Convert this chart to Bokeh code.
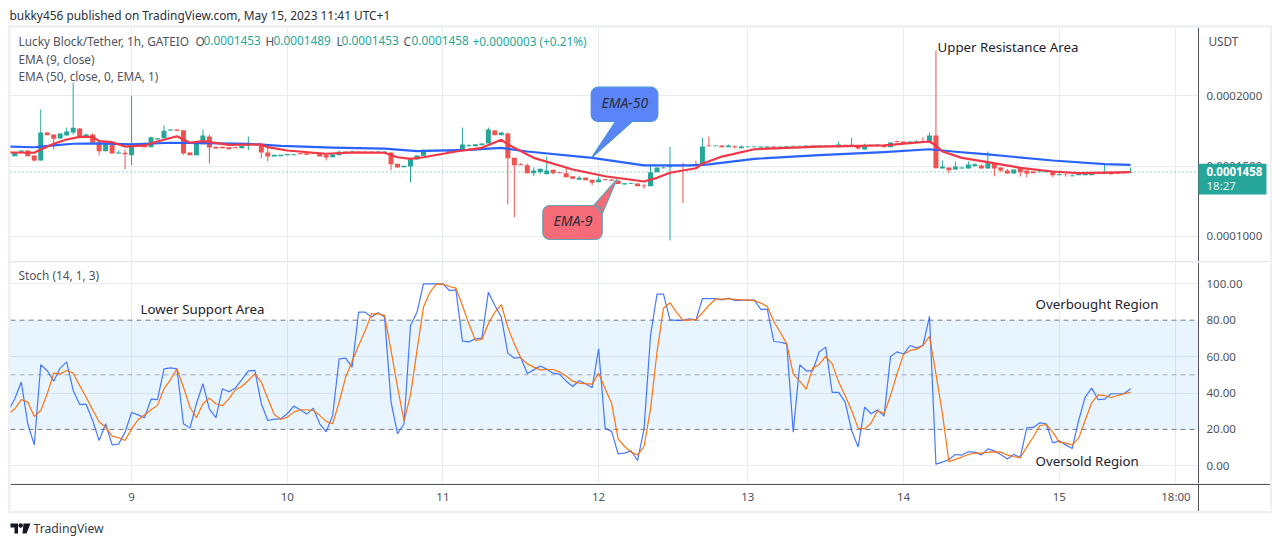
import math
import numpy as np
from bokeh.embed import file_html
from bokeh.resources import INLINE
from bokeh.layouts import column
from bokeh.models import (BoxAnnotation, ColumnDataSource, FixedTicker, Label, LinearAxis, PrintfTickFormatter, Range1d, Span)
from bokeh.plotting import figure

# ---- price data, units of 1e-7 USDT, one entry per hourly bar
OPEN = [1570,1601,1610,1575,1539,1738,1724,1695,1717,1738,
        1766,1709,1724,1667,1605,1653,1589,1594,1577,1658,
        1653,1634,1688,1697,1752,1759,1754,1596,1577,1655,
        1709,1636,1636,1634,1634,1626,1643,1648,1643,1596,
        1567,1570,1577,1577,1591,1591,1596,1591,1579,1562,
        1577,1603,1594,1603,1603,1603,1596,1596,1596,1516,
        1491,1496,1546,1572,1605,1608,1608,1615,1610,1615,
        1640,1640,1648,1660,1752,1719,1731,1558,1513,1506,
        1449,1456,1442,1473,1456,1449,1427,1402,1418,1402,
        1385,1406,1404,1397,1369,1373,1376,1362,1357,1456,
        1484,1491,1499,1504,1499,1506,1501,1646,1641,1646,
        1634,1641,1626,1634,1634,1631,1629,1638,1634,1634,
        1638,1641,1641,1646,1641,1643,1648,1634,1650,1643,
        1646,1617,1646,1646,1646,1634,1676,1674,1665,1667,
        1676,1667,1717,1482,1489,1475,1482,1482,1499,1504,
        1482,1520,1489,1468,1447,1484,1468,1461,1456,1456,
        1463,1435,1442,1427,1435,1435,1435,1445,1445,1452,
        1452,1449,1453]
CLOSE = [1594,1610,1570,1539,1738,1719,1693,1731,1745,1771,
         1704,1724,1667,1605,1662,1589,1596,1584,1658,1643,
         1634,1704,1697,1750,1759,1750,1589,1577,1658,1717,
         1631,1624,1626,1619,1626,1643,1655,1655,1596,1567,
         1579,1579,1586,1584,1584,1579,1587,1567,1560,1581,
         1601,1589,1603,1594,1594,1594,1603,1603,1513,1489,
         1501,1546,1575,1615,1615,1615,1615,1601,1603,1653,
         1648,1655,1660,1759,1719,1738,1555,1506,1506,1449,
         1468,1480,1468,1449,1449,1420,1409,1416,1399,1381,
         1404,1399,1395,1373,1378,1378,1357,1357,1456,1489,
         1489,1504,1504,1499,1504,1499,1638,1641,1646,1634,
         1646,1634,1638,1638,1638,1638,1638,1629,1638,1641,
         1643,1643,1646,1641,1646,1648,1643,1653,1641,1650,
         1624,1643,1650,1653,1634,1667,1669,1657,1674,1676,
         1669,1717,1484,1496,1470,1496,1489,1511,1513,1482,
         1520,1482,1468,1447,1475,1456,1447,1449,1461,1463,
         1435,1442,1437,1432,1445,1445,1445,1449,1452,1442,
         1445,1453,1458]
HIGH_WICK = {1:1612,2:1612,4:1901,8:1773,9:2093,10:1768,11:1731,12:1731,16:1610,17:1615,18:1998,21:1709,
             23:1788,29:1759,30:1721,36:1709,38:1658,39:1653,50:1610,52:1610,69:1773,70:1655,73:1773,74:1757,
             76:1738,78:1520,79:1518,80:1491,82:1567,85:1484,87:1432,90:1425,95:1383,97:1371,98:1504,100:1499,
             101:1636,103:1523,105:1539,106:1700,107:1709,110:1653,111:1646,112:1646,127:1674,129:1700,131:1658,
             136:1681,139:1683,140:1704,141:1738,142:2320,143:1539,145:1532,146:1496,147:1532,148:1520,149:1511,
             150:1603,153:1480,161:1452,163:1442,168:1518,172:1489}
LOW_WICK = {3:1532,6:1619,9:1724,13:1575,17:1477,18:1506,26:1580,30:1518,36:1612,38:1555,39:1534,48:1539,
            58:1470,61:1385,76:1227,77:1136,80:1427,81:1445,83:1440,89:1364,97:1338,101:971,103:1236,111:1624,
            130:1617,144:1447,151:1427,152:1456,155:1425,156:1420,160:1420,162:1425}
LAST_PRICE = 1458

EMA50_BAR = [-1,3,6,9,13,18,24,29,36,41,49,57,62,70,75,79,89,97,104,107,114,124,134,141,145,150,160,168,172]
EMA50_VAL = [1638,1633,1646,1658,1660,1653,1665,1662,1658,1643,1631,1624,1605,1615,1629,1603,1558,1504,1504,1511,
             1551,1577,1598,1619,1601,1582,1539,1513,1508]
EMA9_BAR = [-1,0,3,4,6,8,10,12,13,15,17,20,22,25,27,29,33,38,39,42,48,52,57,59,61,63,68,72,75,76,80,86,91,97,99,
            101,105,106,109,114,124,134,141,142,143,146,150,155,160,164,172]
EMA9_VAL = [1596,1596,1594,1617,1658,1688,1707,1707,1676,1669,1638,1646,1674,1711,1665,1676,1650,1653,1634,1610,
            1587,1596,1594,1562,1551,1562,1603,1629,1686,1653,1558,1475,1427,1390,1416,1452,1484,1516,1567,1619,
            1638,1646,1674,1646,1603,1558,1527,1487,1461,1449,1456]

# ---- stochastic, bars -1 .. 172
STOCH_K = [30.4,
    36.8,46.0,23.1,11.5,55.5,52.2,46.5,53.7,57.1,41.4,
    33.7,33.7,24.9,13.9,23.1,11.5,11.9,18.5,29.3,28.0,
    26.4,36.6,36.4,53.3,53.8,53.3,23.1,20.7,34.1,45.1,
    31.1,26.4,42.3,40.7,42.7,47.3,52.2,52.4,34.1,24.9,
    25.6,25.8,28.6,32.8,30.8,28.4,31.7,23.1,18.7,27.7,
    58.8,59.2,54.2,84.4,84.4,81.7,84.1,81.7,35.0,17.6,
    23.1,77.1,84.4,100,100,100,100,96.3,96.7,68.5,
    68.1,69.8,70.1,95.4,88.1,81.7,61.9,59.2,59.5,50.7,
    52.7,54.8,53.1,50.9,50.2,46.5,43.6,46.7,45.1,42.9,
    64.3,20.7,18.9,6.6,7.0,8.2,2.9,20.3,71.6,94.3,
    94.3,80.2,79.9,79.9,80.8,80.2,91.8,91.8,91.8,91.2,
    92.1,90.8,91.0,91.0,91.0,85.9,86.1,68.3,67.9,67.0,
    18.5,55.5,52.2,52.2,62.5,65.2,40.3,40.3,35.0,19.4,
    10.3,32.2,28.6,30.8,27.3,60.1,62.6,61.4,66.1,64.8,
    66.1,82.1,0.9,2.0,3.5,6.2,5.9,7.7,7.5,6.0,
    9.3,8.2,6.2,3.8,6.2,4.6,20.9,21.1,23.6,23.1,
    12.6,13.7,11.5,9.5,24.9,37.7,42.7,36.4,36.6,39.6,
    39.6,39.7,42.3]
STOCH_D = [28.6,
    31.3,36.4,35.0,27.1,30.4,39.6,50.9,50.5,52.4,50.9,
    44.1,37.7,30.8,24.2,21.2,16.3,15.4,13.9,20.3,25.3,
    28.0,30.8,33.2,42.3,47.4,53.3,43.2,32.2,26.4,34.1,
    37.2,34.1,33.0,36.8,41.8,43.6,46.9,50.5,46.0,36.8,
    28.2,25.5,26.7,29.5,30.8,30.8,30.4,27.7,24.4,23.1,
    35.0,48.7,57.5,66.1,74.0,83.5,83.5,82.6,63.4,43.2,
    24.5,39.0,63.4,87.2,95.4,99.8,99.8,98.5,97.6,88.1,
    78.0,68.9,69.4,78.0,84.4,88.5,76.2,67.0,59.3,56.0,
    54.2,52.7,52.9,52.9,51.5,49.3,46.5,45.4,45.1,44.9,
    50.9,42.3,34.4,14.8,10.6,7.5,5.9,10.6,31.3,62.5,
    86.6,89.6,84.4,79.9,80.2,80.2,84.1,88.1,91.6,91.6,
    91.8,91.4,91.2,91.0,90.8,89.4,87.5,79.3,73.4,67.0,
    50.5,46.5,42.1,53.8,55.7,60.1,56.0,46.0,38.6,30.4,
    20.7,20.3,23.4,30.4,28.6,38.6,50.5,61.2,63.4,64.1,
    66.1,71.1,50.5,28.6,2.2,3.5,4.8,6.2,7.0,7.0,
    7.5,7.7,7.5,5.9,5.1,4.4,10.3,15.8,22.0,22.7,
    18.5,13.0,12.5,11.5,15.2,24.9,34.6,39.0,38.6,37.5,
    38.6,39.6,40.3]

TIME_TICKS = [18, 42, 66, 90, 113, 137, 161, 179]
TIME_LABELS = ["9", "10", "11", "12", "13", "14", "15", "18:00"]
PRICE_TICKS = [1000, 1500, 2000]
STOCH_TICKS = [0, 20, 40, 60, 80, 100]
STOCH_LEVELS = [80, 50, 20]

UP, DOWN = "#26A69A", "#EF5350"
BLUE, RED, ORANGE = "#2962FF", "#F23645", "#FF6D00"
GRID = "#E6ECF2"
AXIS = "#50535E"
TEXT = "#50535E"
DARK = "#1E222D"
FONT = "Noto Sans"

# page-pixel helpers for annotations (overlays, not chart data)
BAR0_PX, BAR_PX = 14.3, 6.487
def kx(px): return (px - BAR0_PX) / BAR_PX
def py(px): return (2675.05 - 7.1 * px) * 1e-7
def sy(px): return (465.3 - px) / 1.82

bars = np.arange(len(OPEN))
o, c = np.array(OPEN) * 1e-7, np.array(CLOSE) * 1e-7
hi = np.array([HIGH_WICK.get(i, max(OPEN[i], CLOSE[i])) for i in bars]) * 1e-7
lo = np.array([LOW_WICK.get(i, min(OPEN[i], CLOSE[i])) for i in bars]) * 1e-7
colors = [UP if CLOSE[i] >= OPEN[i] else DOWN for i in bars]
src = ColumnDataSource(dict(x=bars, top=np.maximum(o, c), bottom=np.minimum(o, c), hi=hi, lo=lo, color=colors))

# each pane's frame runs the whole panel width; the value axis is pinned at x=1198
X_RANGE = (kx(10), kx(1270))
AXIS_AT = kx(1198)


def style_axis(a):
    a.axis_line_color = AXIS
    a.major_tick_line_color = None
    a.minor_tick_line_color = None
    a.major_tick_out = 0
    a.major_tick_in = 0
    a.major_label_text_font = FONT
    a.major_label_text_font_size = "11.5px"
    a.major_label_text_color = TEXT


def pane(height, y_range):
    f = figure(width=1260, height=height, output_backend="svg", toolbar_location=None,
               x_range=Range1d(*X_RANGE), y_range=y_range, x_axis_location=None, y_axis_location=None,
               min_border_left=0, min_border_right=0, min_border_top=0, min_border_bottom=0)
    f.outline_line_color = None
    return f


# ---------- price pane
p = pane(234, Range1d(py(261), py(27)))
p.xgrid.ticker = FixedTicker(ticks=TIME_TICKS)
p.xgrid.grid_line_color = GRID
p.ygrid.ticker = FixedTicker(ticks=[t * 1e-7 for t in PRICE_TICKS])
p.ygrid.grid_line_color = GRID
ax = LinearAxis(fixed_location=AXIS_AT, ticker=FixedTicker(ticks=[t * 1e-7 for t in PRICE_TICKS]),
                formatter=PrintfTickFormatter(format="%.7f"))
style_axis(ax)
ax.major_label_standoff = 8
p.add_layout(ax, "right")

p.add_layout(Span(location=LAST_PRICE * 1e-7, dimension="width", line_color=UP, line_dash=[1, 3], line_width=1,
                  level="underlay"))
p.quad(left=[AXIS_AT], right=[kx(1270)], top=[py(27)], bottom=[py(261)], fill_color="white", line_color=None)
p.segment(x0="x", x1="x", y0="lo", y1="hi", line_color="color", line_width=1, source=src)
p.vbar(x="x", top="top", bottom="bottom", width=0.77, fill_color="color", line_color=None, source=src)
p.line(np.array(EMA50_BAR), np.array(EMA50_VAL) * 1e-7, line_color=BLUE, line_width=2.2, line_join="round")
p.line(np.array(EMA9_BAR), np.array(EMA9_VAL) * 1e-7, line_color=RED, line_width=2.2, line_join="round")


def callout(left, right, top, bottom, pointer, r=7):
    """Rounded box with pointer vertices spliced into its outline, in page pixels."""
    pts = []
    corners = [(right - r, top + r, -90), (right - r, bottom - r, 0), (left + r, bottom - r, 90), (left + r, top + r, 180)]
    for n, (cx, cy, a0) in enumerate(corners):
        for t_ in range(0, 91, 15):
            a = math.radians(a0 + t_)
            pts.append((cx + r * math.cos(a), cy + r * math.sin(a)))
        pts.extend(pointer.get(n, []))
    return [kx(a) for a, _ in pts], [py(b) for _, b in pts]


# EMA-50 box: pointer leaves through the bottom edge
xs, ys = callout(590.7, 657.3, 86.7, 121, {1: [(631.7, 121), (591, 157.3), (615, 121)]})
p.patch(xs, ys, fill_color="#5B84F9", line_color="#4A90D9", line_width=1.2)
# EMA-9 box: pointer leaves near the top right corner
xs, ys = callout(542.3, 601.7, 205, 239, {3: [(593.3, 205), (616.7, 178.3), (601.7, 213.3)]})
p.patch(xs, ys, fill_color="#F66B78", line_color="#62A3B5", line_width=1.2)


def note(fig, fy, x, y, text, color=TEXT, size="11.8px", **kw):
    fig.add_layout(Label(x=kx(x), y=fy(y - 1), text=text, text_color=color, text_font=FONT, text_font_size=size,
                         text_baseline="middle", **kw))


note(p, py, 601, 103, "EMA-50", "#2A2E39", "14px", text_font_style="italic")
note(p, py, 553, 221, "EMA-9", "#2A2E39", "14px", text_font_style="italic")
note(p, py, 937, 47, "Upper Resistance Area", DARK, "13.3px")
note(p, py, 18, 41, "Lucky Block/Tether, 1h, GATEIO")
for x, t_, col in [(195, "O", TEXT), (203, "0.0001453", UP), (265, "H", TEXT), (273, "0.0001489", UP),
                   (336, "L", TEXT), (341, "0.0001453", UP), (403, "C", TEXT), (411, "0.0001458", UP),
                   (472, "+0.0000003 (+0.21%)", UP)]:
    note(p, py, x, 41, t_, col)
note(p, py, 18, 59, "EMA (9, close)")
note(p, py, 18, 76, "EMA (50, close, 0, EMA, 1)")
note(p, py, 1208, 41, "USDT")
p.add_layout(BoxAnnotation(left=AXIS_AT, right=kx(1266), top=py(163.3), bottom=py(194),
                           fill_color=UP, fill_alpha=1, line_color=None))
note(p, py, 1206, 172, f"0.000{LAST_PRICE}", "#FFFFFF", "11.5px", text_font_style="bold")
note(p, py, 1206, 186, "18:27", "#E4F4F2", "11.5px")

# ---------- stochastic pane
s = pane(221, Range1d(sy(483), sy(262)))
s.xgrid.ticker = FixedTicker(ticks=TIME_TICKS)
s.xgrid.grid_line_color = GRID
s.ygrid.ticker = FixedTicker(ticks=[0, 40, 60, 100])
s.ygrid.grid_line_color = GRID
ya = LinearAxis(fixed_location=AXIS_AT, ticker=FixedTicker(ticks=STOCH_TICKS), formatter=PrintfTickFormatter(format="%.2f"))
style_axis(ya)
ya.major_label_standoff = 8
s.add_layout(ya, "right")

s.add_layout(BoxAnnotation(top=STOCH_LEVELS[0], bottom=STOCH_LEVELS[2], fill_color="#2196F3", fill_alpha=0.1,
                           line_color=None, level="underlay"))
for lvl in STOCH_LEVELS:
    s.add_layout(Span(location=lvl, dimension="width", line_color="#787B86", line_dash=[5, 4], line_width=1,
                      line_alpha=0.6 if lvl == 50 else 1, level="underlay"))
s.quad(left=[AXIS_AT], right=[kx(1270)], top=[sy(262)], bottom=[sy(483)], fill_color="white", line_color=None)
stoch_x = np.arange(-1, len(STOCH_K) - 1)
s.line(stoch_x, STOCH_K, line_color=BLUE, line_width=1.2, line_alpha=0.85)
s.line(stoch_x, STOCH_D, line_color=ORANGE, line_width=1.2, line_alpha=0.95)

note(s, sy, 18, 275, "Stoch (14, 1, 3)")
note(s, sy, 140, 309, "Lower Support Area", DARK, "13.3px")
note(s, sy, 1035, 304, "Overbought Region", DARK, "13.3px")
note(s, sy, 1035, 461, "Oversold Region", DARK, "13.3px")

# ---------- time axis strip
t = pane(28, Range1d(0, 28))
t.grid.visible = False
xa = LinearAxis(fixed_location=27.5, ticker=FixedTicker(ticks=TIME_TICKS),
                major_label_overrides=dict(zip(TIME_TICKS, TIME_LABELS)))
style_axis(xa)
xa.major_label_standoff = 5
t.add_layout(xa, "below")
va = LinearAxis(fixed_location=AXIS_AT, ticker=FixedTicker(ticks=[]))
style_axis(va)
t.add_layout(va, "right")
t.scatter([], [])

# ---------- header and footer strips
head = figure(width=1264, height=17, output_backend="svg", toolbar_location=None, x_range=Range1d(8, 1272),
              y_range=Range1d(25, 8), x_axis_location=None, y_axis_location=None,
              min_border_left=0, min_border_right=0, min_border_top=0, min_border_bottom=0)
head.outline_line_color = None
head.grid.visible = False
head.scatter([], [])
head.add_layout(Label(x=9, y=14, text="bukky456 published on TradingView.com, May 15, 2023 11:41 UTC+1",
                      text_color="#2A2E39", text_font=FONT, text_font_size="11.9px", text_baseline="middle"))

foot = figure(width=1264, height=25, output_backend="svg", toolbar_location=None, x_range=Range1d(8, 1272),
              y_range=Range1d(538, 513), x_axis_location=None, y_axis_location=None,
              min_border_left=0, min_border_right=0, min_border_top=0, min_border_bottom=0)
foot.outline_line_color = None
foot.grid.visible = False
foot.patch([10, 17.5, 17.5, 14, 14, 10], [523, 523, 533, 533, 527, 527], fill_color="#131722", line_color=None)
foot.patch([23, 30, 26, 22], [523, 523, 533, 533], fill_color="#131722", line_color=None)
foot.scatter([20.2], [525], size=4.4, fill_color="#131722", line_color=None)
foot.add_layout(Label(x=33, y=528, text="TradingView", text_color="#363A45", text_font=FONT,
                      text_font_size="12.2px", text_baseline="middle"))

lower = column(s, t, spacing=0)
panes = column(p, lower, spacing=1, margin=(2, 0, 2, 2),
               styles={"background-color": "#E6E9F0", "outline": "2px solid #EEF0F6"})
page = column(head, panes, foot, spacing=0, margin=(8, 0, 0, 8))
open("out.html", "w").write(file_html(page, INLINE))
